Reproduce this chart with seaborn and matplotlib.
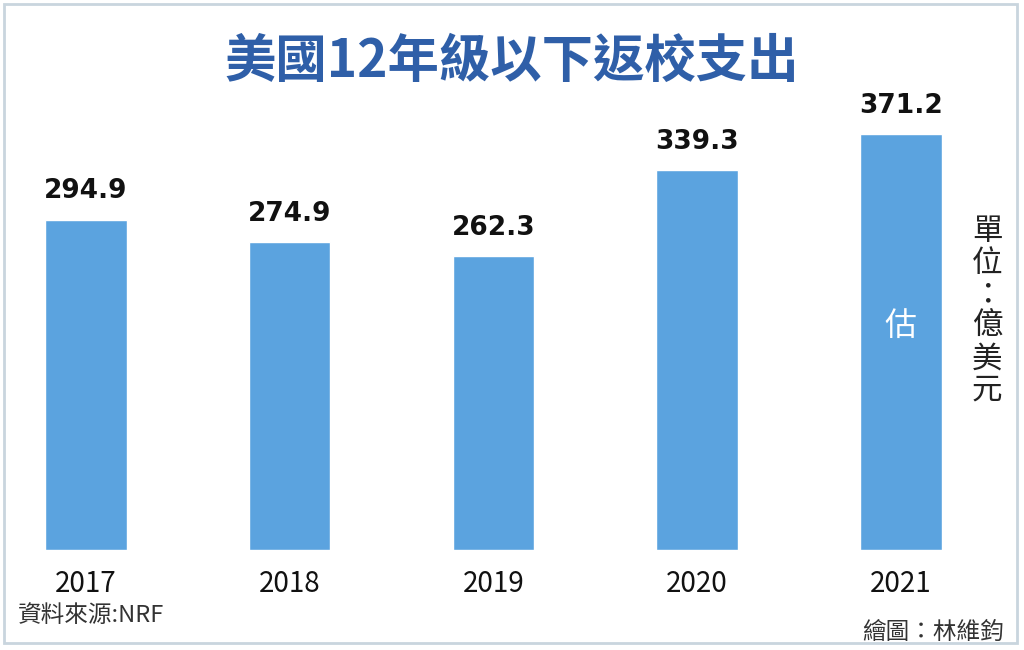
import matplotlib
matplotlib.use("Agg")
import matplotlib.pyplot as plt
import seaborn as sns
import pandas as pd
from matplotlib.patches import Rectangle

years = ["2017", "2018", "2019", "2020", "2021"]
values = [294.9, 274.9, 262.3, 339.3, 371.2]
value_labels = ["294.9", "274.9", "262.3", "339.3", "371.2"]
title = "美國12年級以下返校支出"
unit = "單位：億美元"
source = "資料來源:NRF"
credit = "繪圖：林維鈞"
estimate_mark = "估"

sns.set_theme(style="white")
plt.rcParams["font.family"] = ["Noto Sans CJK TC", "DejaVu Sans"]

df = pd.DataFrame({"year": years, "value": values})

fig = plt.figure(figsize=(10.24, 6.5), dpi=100)
fig.patch.set_facecolor("white")
ax = fig.add_axes([24.9 / 1024, 100 / 650, (962 - 24.9) / 1024, 448 / 650])
bar_color = "#5ba3df"
sns.barplot(data=df, x="year", y="value", color=bar_color, saturation=1,
            width=0.4, ax=ax)
ax.set_xlim(-0.3, 4.3)
ax.set_ylim(0, 400)
for s in ax.spines.values():
    s.set_visible(False)
ax.set_yticks([])
ax.set_xlabel("")
ax.set_ylabel("")
ax.tick_params(axis="x", length=0, pad=14, labelsize=20, labelcolor="#111111")

for i, (v, lab) in enumerate(zip(values, value_labels)):
    ax.annotate(lab, (i, v), xytext=(0, 11), textcoords="offset points",
                ha="center", va="bottom", fontsize=19, fontweight="bold",
                color="#111111", family=["DejaVu Sans"])

ax.text(4, 200, estimate_mark, ha="center", va="center", fontsize=23,
        color="white")

fig.text(0.5, 1 - 61 / 650, title, ha="center", va="center", fontsize=37,
         fontweight="bold", color="#2f5fa8")

fig.text(987 / 1024, 1 - 311 / 650, "\n".join(unit), ha="center", va="center",
         fontsize=22, color="#222222", linespacing=1.03)

fig.text(18 / 1024, 1 - 616 / 650, source, ha="left", va="center",
         fontsize=17, color="#333333")
fig.text(1004 / 1024, 1 - 632 / 650, credit, ha="right", va="center",
         fontsize=17, color="#333333")

fig.patches.append(Rectangle((4 / 1024, 7 / 650), 1013 / 1024, 639 / 650,
                             transform=fig.transFigure, fill=False,
                             edgecolor="#c9d5de", linewidth=2))

fig.savefig("out.png", dpi=100, facecolor="white")
